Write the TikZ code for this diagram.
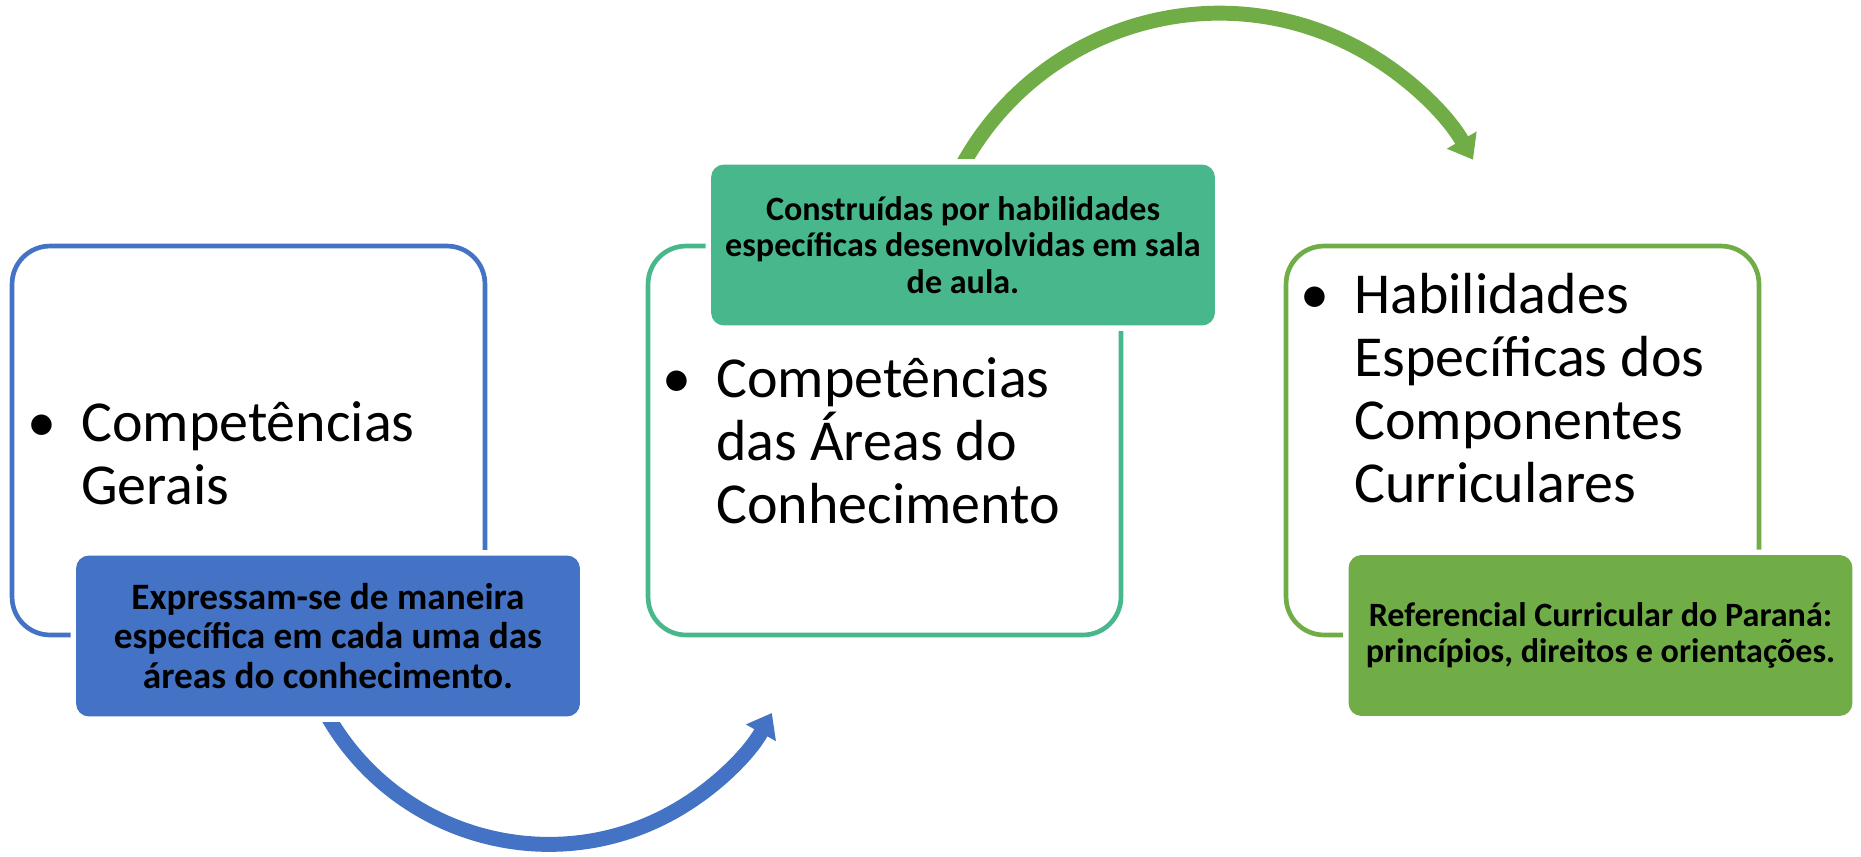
\documentclass[tikz,border=0pt]{standalone}
\usepackage{fontspec}
\setmainfont{Carlito}
\usetikzlibrary{arrows.meta,backgrounds}

\definecolor{cblue}{HTML}{4472C4}
\definecolor{cteal}{HTML}{48B88C}
\definecolor{cgreen}{HTML}{70AD47}

\tikzset{
  frame/.style={draw=#1, line width=2.66pt, rounded corners=0.76cm, minimum width=9.46cm, minimum height=7.78cm, inner sep=0pt},
  note/.style={fill=#1, preaction={draw=white, line width=6.2pt}, rounded corners=0.26cm, minimum width=10.08cm, minimum height=3.22cm, inner sep=0pt, align=center, font=\bfseries\fontsize{19.4}{20.8}\selectfont},
  bigtext/.style={anchor=base west, align=left, inner sep=0pt, font=\fontsize{33}{35.7}\selectfont},
  curvearrow/.style={draw=#1, line width=8.5pt, -{Triangle[width=18.7pt,length=12.9pt]}}
}
\newcommand{\bul}{\llap{\makebox[45.4pt][c]{•}}}

\begin{document}
\begin{tikzpicture}[x=0.02cm, y=0.02cm]
        \useasboundingbox (0,0) rectangle (1861,-856);

        % Frames
        \node[frame=cblue] (frame1) at (248.5,-440.5) {};
        \node[frame=cteal] (frame2) at (884.5,-440.5) {};
        \node[frame=cgreen] (frame3) at (1522.5,-440.5) {};

        % Bullet texts (placed by the baseline of the last line)
        \node[bigtext] (b1text) at (81,-504) {\bul Competências\\Gerais};
        \node[bigtext] (b2text) at (716,-523) {\bul Competências\\das Áreas do\\Conhecimento};
        \node[bigtext] (b3text) at (1354,-502) {\bul Habilidades\\Específicas dos\\Componentes\\Curriculares};

        % Notes
        \node[note=cblue, font=\bfseries\fontsize{21.2}{22.7}\selectfont] (b1note) at (328,-636) {Expressam-se de maneira\\específica em cada uma das\\áreas do conhecimento.};
        \node[note=cteal] (b2note) at (963,-245) {Construídas por habilidades\\específicas desenvolvidas em sala\\de aula.};
        \node[note=cgreen] (b3note) at (1600.5,-635.5) {Referencial Curricular do Paraná:\\princípios, direitos e orientações.};

        % Arrows
        \begin{scope}[on background layer]
        \draw[curvearrow=cblue] (b1note.south) arc[start angle=210, end angle=331, radius=255];
        \draw[curvearrow=cgreen] (b2note.north) arc[start angle=151, end angle=30, radius=293];
        \end{scope}
\end{tikzpicture}
\end{document}
